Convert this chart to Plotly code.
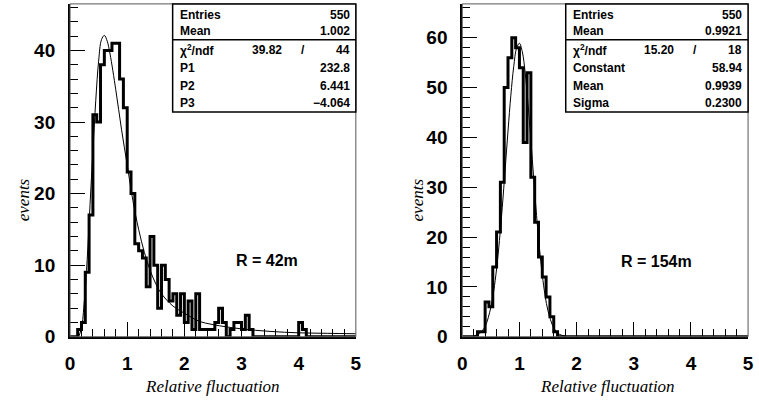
import numpy as np
import plotly.graph_objects as go

# ---------------- data ----------------
x_lo, x_hi, n_bins = 0.0, 5.0, 75

left_counts = [0, 0, 1, 2, 9, 17,
               31, 30, 38, 40, 40, 41, 41, 36, 32, 23, 20,
               13, 12, 11, 7, 14, 10, 4, 10, 8, 5, 6, 3, 6, 2, 5,
               1, 6, 1, 1, 1, 1, 2, 4, 2, 0, 1, 2, 2, 1, 3, 1,
               0, 0, 0, 0, 0, 0, 0, 0, 0, 0, 0, 0,
               2, 1,
               0, 0, 0, 0, 0, 0, 0, 0, 0, 0, 0, 0, 0]

right_counts = [0, 0, 0, 0, 1, 1, 7, 6, 14, 21, 31, 50, 56, 60, 58, 54, 39, 53,
                32, 23, 16, 12, 8, 4, 1] + [0] * 50

left_fit_x = [0.15, 0.2, 0.25, 0.3, 0.35, 0.4, 0.45, 0.5, 0.55, 0.6, 0.65, 0.7,
              0.8, 0.9, 1.0, 1.1, 1.2, 1.3, 1.4, 1.5, 1.6, 1.8, 2.0, 2.25, 2.5,
              3.0, 3.5, 4.0, 4.5, 5.0]
left_fit_y = [0.0, 1.2, 5.0, 10.8, 18.5, 26.0, 33.0, 38.5, 41.5, 42.1, 41.3, 39.5,
              34.5, 29.0, 24.0, 19.0, 15.0, 11.8, 9.3, 7.4, 6.0, 4.3, 3.3, 2.2, 1.7,
              1.1, 0.75, 0.55, 0.48, 0.42]

right_fit_x = [0.2, 0.3, 0.4, 0.5, 0.55, 0.6, 0.65, 0.7, 0.75, 0.8, 0.85, 0.9, 0.95,
               1.0, 1.05, 1.1, 1.15, 1.2, 1.25, 1.3, 1.35, 1.4, 1.45, 1.5, 1.6, 1.7, 1.8]
right_fit_y = [0.15, 0.62, 2.1, 5.9, 9.2, 13.6, 19.3, 26.0, 33.6, 41.3, 48.5, 54.2, 57.9,
               58.9, 57.2, 53.0, 46.8, 39.5, 31.7, 24.3, 17.8, 12.4, 8.2, 5.2, 1.8, 0.5, 0.13]

x_tick_vals = [0, 1, 2, 3, 4, 5]
left_y_ticks = [0, 10, 20, 30, 40]
right_y_ticks = [0, 10, 20, 30, 40, 50, 60]

left_stats_top = [("Entries", "550"), ("Mean", "1.002")]
left_chi2 = ("39.82", "44")
left_stats_fit = [("P1", "232.8"), ("P2", "6.441"), ("P3", "\u22124.064")]
right_stats_top = [("Entries", "550"), ("Mean", "0.9921")]
right_chi2 = ("15.20", "18")
right_stats_fit = [("Constant", "58.94"), ("Mean", "0.9939"), ("Sigma", "0.2300")]

left_label = "R = 42m"
right_label = "R = 154m"
x_title = "Relative fluctuation"
y_title = "events"

# ---------------- figure ----------------
W, H = 759, 412
fig = go.Figure()

edges = np.linspace(x_lo, x_hi, n_bins + 1)


def hist_trace(counts, xa, ya):
    xs = [edges[0]] + list(edges[:-1]) + [edges[-1]]
    ys = [0] + list(counts) + [0]
    return go.Scatter(x=xs, y=ys, mode="lines", line=dict(shape="hv", color="black", width=3),
                      xaxis=xa, yaxis=ya, showlegend=False, hoverinfo="skip")


fig.add_trace(hist_trace(left_counts, "x", "y"))
fig.add_trace(go.Scatter(x=left_fit_x, y=left_fit_y, mode="lines",
                         line=dict(shape="spline", color="black", width=1),
                         xaxis="x", yaxis="y", showlegend=False))
fig.add_trace(hist_trace(right_counts, "x2", "y2"))
fig.add_trace(go.Scatter(x=right_fit_x, y=right_fit_y, mode="lines",
                         line=dict(shape="spline", color="black", width=1),
                         xaxis="x2", yaxis="y2", showlegend=False))

y_dom = [1 - 346 / H, 1 - 4 / H]
left_dom = [66 / W, 356 / W]
right_dom = [464 / W, 754 / W]

tick_font = dict(family="Liberation Sans, Arial", size=19, color="black", weight="bold")


def xaxis_cfg(dom, anchor):
    return dict(domain=dom, anchor=anchor, range=[x_lo, x_hi], tickvals=x_tick_vals,
                ticks="inside", ticklen=15, tickwidth=1, tickcolor="black",
                minor=dict(ticks="inside", ticklen=8, dtick=0.2, tickwidth=1, tickcolor="black"),
                showline=True, linecolor="black", linewidth=2, showgrid=False, zeroline=False,
                tickfont=tick_font, ticklabelstandoff=8)


def yaxis_cfg(rng, ticks, anchor):
    return dict(domain=y_dom, anchor=anchor, range=rng, tickvals=ticks,
                ticks="inside", ticklen=15, tickwidth=1, tickcolor="black",
                minor=dict(ticks="inside", ticklen=8, dtick=2, tickwidth=1, tickcolor="black"),
                showline=True, linecolor="black", linewidth=2, showgrid=False, zeroline=False,
                tickfont=tick_font, ticklabelstandoff=9)


fig.update_layout(
    width=W, height=H, margin=dict(l=0, r=0, t=0, b=0),
    paper_bgcolor="white", plot_bgcolor="white",
    xaxis=xaxis_cfg(left_dom, "y"),
    yaxis=yaxis_cfg([0, 46.5], left_y_ticks, "x"),
    xaxis2=xaxis_cfg(right_dom, "y2"),
    yaxis2=yaxis_cfg([0, 66.8], right_y_ticks, "x2"),
)

shapes = []
annotations = []
box_font = dict(family="Liberation Sans, Arial", size=12, color="black", weight="bold")
row_y = [0.968, 0.918, 0.860, 0.807, 0.754, 0.702]

for xa, ya in (("x", "y"), ("x2", "y2")):
    xr, yr = xa + " domain", ya + " domain"
    shapes.append(dict(type="rect", xref=xr, yref=yr, x0=0, x1=1, y0=0, y1=1,
                       line=dict(color="#555", width=1), layer="above"))

for xa, ya, box_l, top, chi2, fitp in (
        ("x", "y", 0.359, left_stats_top, left_chi2, left_stats_fit),
        ("x2", "y2", 0.362, right_stats_top, right_chi2, right_stats_fit)):
    xr, yr = xa + " domain", ya + " domain"
    shapes.append(dict(type="rect", xref=xr, yref=yr, x0=box_l, x1=1.0, y0=0.675, y1=1.0,
                       line=dict(color="black", width=1.5), fillcolor="white", layer="above"))
    shapes.append(dict(type="line", xref=xr, yref=yr, x0=box_l, x1=1.0, y0=0.892, y1=0.892,
                       line=dict(color="black", width=1.5), layer="above"))
    lab_x = box_l + 0.017
    rows = [(top[0][0], top[0][1]), (top[1][0], top[1][1]), None] + list(fitp)
    for i, r in enumerate(rows):
        if r is None:
            annotations.append(dict(xref=xr, yref=yr, x=lab_x, y=row_y[i], xanchor="left", yanchor="middle",
                                    text="\u03c7<sup>2</sup>/ndf", showarrow=False, font=box_font))
            annotations.append(dict(xref=xr, yref=yr, x=0.748, y=row_y[i], xanchor="right", yanchor="middle",
                                    text=chi2[0], showarrow=False, font=box_font))
            annotations.append(dict(xref=xr, yref=yr, x=0.814, y=row_y[i], xanchor="center", yanchor="middle",
                                    text="/", showarrow=False, font=box_font))
            annotations.append(dict(xref=xr, yref=yr, x=0.986, y=row_y[i], xanchor="right", yanchor="middle",
                                    text=chi2[1], showarrow=False, font=box_font))
        else:
            annotations.append(dict(xref=xr, yref=yr, x=lab_x, y=row_y[i], xanchor="left", yanchor="middle",
                                    text=r[0], showarrow=False, font=box_font))
            annotations.append(dict(xref=xr, yref=yr, x=0.986, y=row_y[i], xanchor="right", yanchor="middle",
                                    text=r[1], showarrow=False, font=box_font))

lab_font = dict(family="Liberation Sans, Arial", size=16, color="black", weight="bold")
annotations.append(dict(xref="x", yref="y", x=3.45, y=10.7, text=left_label, showarrow=False, font=lab_font))
annotations.append(dict(xref="x2", yref="y2", x=3.4, y=15.1, text=right_label, showarrow=False, font=lab_font))

title_font = dict(family="Liberation Serif, Times New Roman", size=17, color="black", style="italic")
for cx in (211, 611):
    annotations.append(dict(xref="paper", yref="paper", x=cx / W, y=1 - 397 / H, text=x_title,
                            showarrow=False, font=title_font, xanchor="center", yanchor="middle"))
for cx in (19, 419):
    annotations.append(dict(xref="paper", yref="paper", x=cx / W, y=1 - 205 / H, text=y_title,
                            showarrow=False, font=title_font, textangle=-90,
                            xanchor="center", yanchor="middle"))

fig.update_layout(shapes=shapes, annotations=annotations)
fig.write_html("out.html")
